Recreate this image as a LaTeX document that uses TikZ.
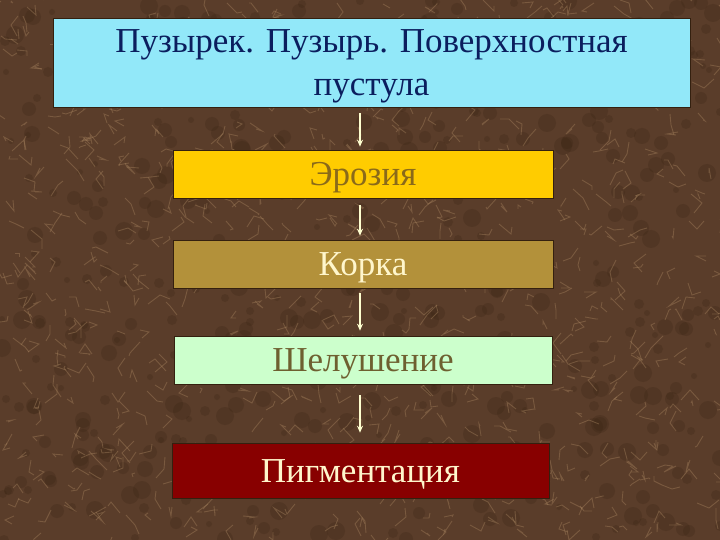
\documentclass[tikz,border=0pt]{standalone}
\usepackage{fontspec}
\setmainfont{Liberation Serif}
\usetikzlibrary{arrows.meta}
\definecolor{bgbrown}{HTML}{5A3D2A}
\definecolor{bglight}{HTML}{A88560}
\definecolor{bgdark}{HTML}{34200F}
\definecolor{cyanbox}{HTML}{92E8F9}
\definecolor{goldbox}{HTML}{FFCC00}
\definecolor{tanbox}{HTML}{B3913A}
\definecolor{greenbox}{HTML}{CCFFCC}
\definecolor{redbox}{HTML}{880000}
\definecolor{navytext}{HTML}{0B1E5E}
\definecolor{olivetext}{HTML}{8A6A1A}
\definecolor{creamtext}{HTML}{FFF6CC}
\definecolor{browntext}{HTML}{6E6030}
\definecolor{arrowcol}{HTML}{FFFFD0}
\newcommand{\lowered}[1]{\raisebox{-4bp}[\height][\depth]{#1}}
\tikzset{
  stagebox/.style={draw=bgdark, line width=0.6bp, inner sep=0pt, align=center,
    font=\fontsize{35bp}{43bp}\selectfont},
  flowarrow/.style={draw=arrowcol, line width=1.5bp, -{Stealth[length=7bp,width=6bp]}}
}
\begin{document}
\begin{tikzpicture}[x=1bp,y=-1bp]
\useasboundingbox (0,0) rectangle (720,540);
\fill[bgbrown] (0,0) rectangle (720,540);
\pgfmathsetseed{7}
\foreach \i in {1,...,500}{
  \pgfmathsetmacro{\px}{random(0,720)}
  \pgfmathsetmacro{\py}{random(0,540)}
  \pgfmathsetmacro{\rr}{random(3,9)}
  \fill[bgdark, opacity=0.22] (\px,\py) circle (\rr bp);
}
\foreach \i in {1,...,900}{
  \pgfmathsetmacro{\px}{random(0,720)}
  \pgfmathsetmacro{\py}{random(0,540)}
  \pgfmathsetmacro{\dx}{random(-12,12)}
  \pgfmathsetmacro{\dy}{random(-12,12)}
  \pgfmathsetmacro{\ex}{random(-10,10)}
  \pgfmathsetmacro{\ey}{random(-10,10)}
  \draw[bglight, opacity=0.4, line width=0.9bp] (\px,\py) -- ++(\dx,\dy) -- ++(\ex,\ey);
}
\node[stagebox, fill=cyanbox, text=navytext, minimum width=637bp, minimum height=89bp] (a) at (371.5,62.5)
  {\lowered{Пузырек. Пузырь. Поверхностная}\\\lowered{пустула}};
\node[stagebox, fill=goldbox, text=olivetext, minimum width=380bp, minimum height=48bp] (b) at (363,174) {\lowered{Эрозия}};
\node[stagebox, fill=tanbox, text=creamtext, minimum width=380bp, minimum height=48bp] (c) at (363,264) {\lowered{Корка}};
\node[stagebox, fill=greenbox, text=browntext, minimum width=378bp, minimum height=48bp] (d) at (363,360) {\lowered{Шелушение}};
\node[stagebox, fill=redbox, text=creamtext, minimum width=377bp, minimum height=55bp] (e) at (360.5,470.5) {\lowered{Пигментация}};
\coordinate (axis) at (360,0);
\draw[flowarrow, shorten <=6bp, shorten >=3bp] (a.south -| axis) -- (b.north -| axis);
\draw[flowarrow, shorten <=7bp, shorten >=4bp] (b.south -| axis) -- (c.north -| axis);
\draw[flowarrow, shorten <=5bp, shorten >=5bp] (c.south -| axis) -- (d.north -| axis);
\draw[flowarrow, shorten <=11bp, shorten >=10bp] (d.south -| axis) -- (e.north -| axis);
\end{tikzpicture}
\end{document}
